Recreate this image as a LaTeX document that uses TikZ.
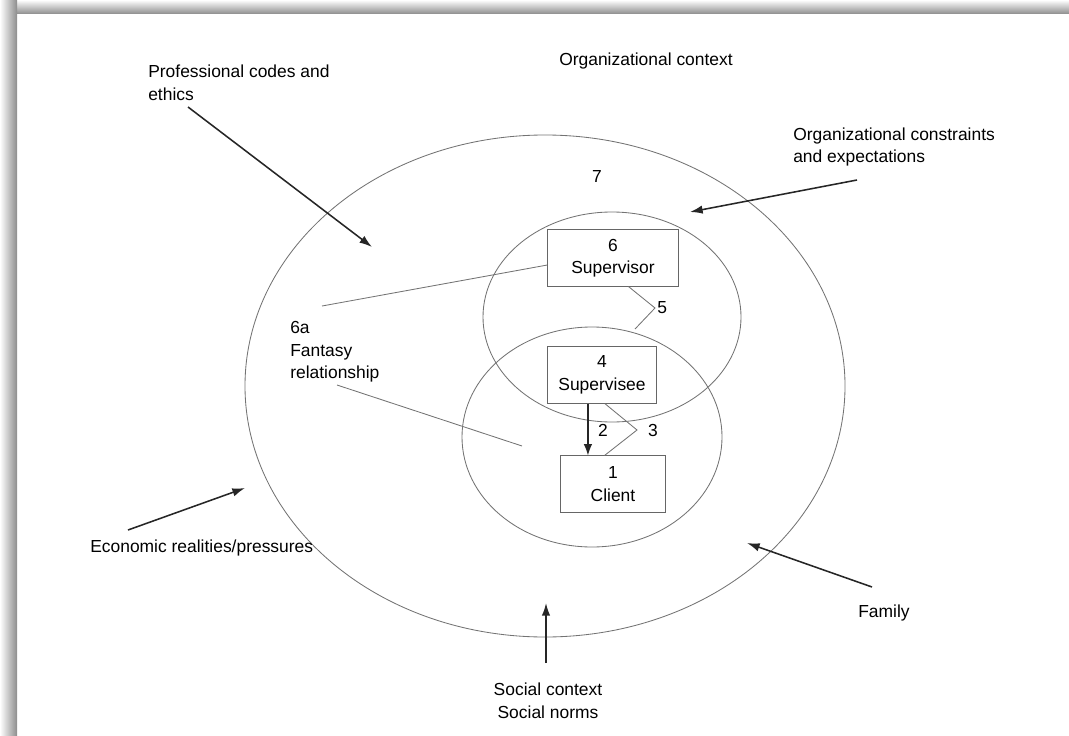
\documentclass[tikz,border=0pt]{standalone}
\usepackage{fontspec}
\setmainfont{Liberation Sans}
\usetikzlibrary{arrows.meta,positioning}

\tikzstyle{ring} = [draw=black!55, line width=0.6pt]
\tikzstyle{rolebox} = [draw=black!60, line width=0.6pt, fill=white,
    rectangle, align=center, minimum height=40pt, inner sep=2pt,
    font=\fontsize{12.4}{16}\selectfont]
\tikzstyle{ctxtext} = [align=left, inner sep=0pt, font=\fontsize{12.4}{16}\selectfont]
\tikzstyle{pressure} = [draw=black!85, line width=1.1pt,
    -{Latex[length=9pt,width=6pt]}]
\tikzstyle{thinlink} = [draw=black!55, line width=0.6pt]

\begin{document}
\begin{tikzpicture}[x=0.025cm, y=-0.025cm]
\useasboundingbox (0,0) rectangle (1069,735);
\shade[top color=white, bottom color=black!45] (0,0) rectangle (1069,14);
\shade[left color=white, right color=black!45] (0,0) rectangle (17,735);

%------------ Kontext und Beziehungskreise ---------------------
\draw[ring] (545,386) ellipse [x radius=300, y radius=251];
\draw[ring] (612,317) ellipse [x radius=129, y radius=105];
\draw[ring] (592,437) ellipse [x radius=130, y radius=110];

\node[rolebox, minimum width=93pt] (sup) at (613,258) {6\\Supervisor};
\node[rolebox, minimum width=77pt] (see) at (602,375) {4\\Supervisee};
\node[rolebox, minimum width=75pt] (cli) at (613,484) {1\\Client};

\node[ctxtext] (orgctx) at (646,61) {Organizational context};
\node[ctxtext, anchor=west] (prof) at (148,83) {Professional codes and\\ethics};
\node[ctxtext, anchor=west] (constr) at (793,147) {Organizational constraints\\and expectations};
\node[ctxtext] (seven) at (597,177) {7};
\node[ctxtext, anchor=west] (econ) at (90,548) {Economic realities/pressures};
\node[ctxtext, align=center] (social) at (548,701) {Social context\\Social norms};
\node[ctxtext, anchor=west] (family) at (858,613) {Family};
\node[ctxtext, anchor=west] (fantasy) at (290,352) {6a\\Fantasy\\relationship};

%------------ Einfluesse von aussen ---------------------
\coordinate (profA) at (188,107);   \coordinate (profB) at (372,247);
\coordinate (constrA) at (857,180); \coordinate (constrB) at (690,212);
\coordinate (econA) at (128,530);   \coordinate (econB) at (245,488);
\coordinate (socialA) at (546,663); \coordinate (socialB) at (546,603);
\coordinate (familyA) at (872,587); \coordinate (familyB) at (747,543);
\draw[pressure] (profA) -- (profB);
\draw[pressure] (constrA) -- (constrB);
\draw[pressure] (econA) -- (econB);
\draw[pressure] (socialA) -- (socialB);
\draw[pressure] (familyA) -- (familyB);

%------------ Beziehungen zwischen den Rollen ---------------------
\draw[draw=black!85, line width=0.9pt, -{Latex[length=8pt,width=6pt]}]
    ([xshift=-10pt]see.south) -- ([xshift=-10pt]see.south |- cli.north);
\node[ctxtext] (two) at (603,430) {2};

\coordinate (bend3) at (637,430);
\draw[thinlink] ([xshift=2pt]see.south) -- (bend3) -- ([xshift=-6pt]cli.north);
\node[ctxtext] (three) at (653,430) {3};

\coordinate (bend5) at (655,308);
\coordinate (end5) at (635,329);
\draw[thinlink] ([xshift=11pt]sup.south) -- (bend5) -- (end5);
\node[ctxtext, anchor=west] (five) at (657,308) {5};

\coordinate (fanA) at (322,306);
\coordinate (fanB) at (337,385);
\coordinate (fanC) at (522,446);
\draw[thinlink] (fanA) -- ([yshift=-5pt]sup.west);
\draw[thinlink] (fanB) -- (fanC);
\end{tikzpicture}
\end{document}
